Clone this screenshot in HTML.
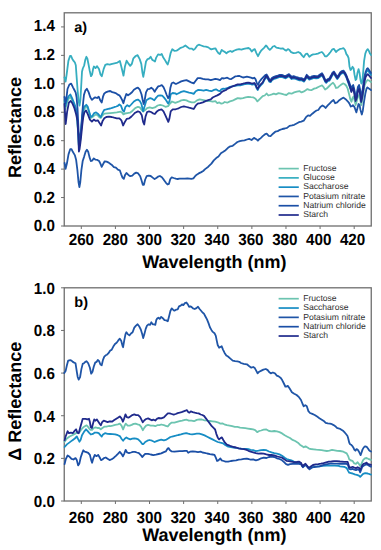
<!DOCTYPE html>
<html><head><meta charset="utf-8"><style>
html,body{margin:0;padding:0;background:#fff;width:381px;height:550px;overflow:hidden}
svg{display:block}
text{font-family:"Liberation Sans",sans-serif;text-rendering:geometricPrecision}
.tk{font-size:15.2px;font-weight:bold;fill:#000}
.ti{font-size:18.0px;font-weight:bold;fill:#000}
.pl{font-size:14.5px;font-weight:bold;fill:#000}
.lg{font-size:8.6px;fill:#303030}
</style></head><body>
<svg width="381" height="550" viewBox="0 0 381 550">
<rect x="64.24" y="12.80" width="307.01" height="213.20" fill="none" stroke="#6e6e6e" stroke-width="1.3"/>
<line x1="61.04" y1="226.00" x2="64.24" y2="226.00" stroke="#6e6e6e" stroke-width="1"/>
<text transform="translate(54.9,231.10) scale(1,1.06)" class="tk" text-anchor="end">0.0</text>
<line x1="61.04" y1="197.56" x2="64.24" y2="197.56" stroke="#6e6e6e" stroke-width="1"/>
<text transform="translate(54.9,202.66) scale(1,1.06)" class="tk" text-anchor="end">0.2</text>
<line x1="61.04" y1="169.12" x2="64.24" y2="169.12" stroke="#6e6e6e" stroke-width="1"/>
<text transform="translate(54.9,174.22) scale(1,1.06)" class="tk" text-anchor="end">0.4</text>
<line x1="61.04" y1="140.68" x2="64.24" y2="140.68" stroke="#6e6e6e" stroke-width="1"/>
<text transform="translate(54.9,145.78) scale(1,1.06)" class="tk" text-anchor="end">0.6</text>
<line x1="61.04" y1="112.24" x2="64.24" y2="112.24" stroke="#6e6e6e" stroke-width="1"/>
<text transform="translate(54.9,117.34) scale(1,1.06)" class="tk" text-anchor="end">0.8</text>
<line x1="61.04" y1="83.80" x2="64.24" y2="83.80" stroke="#6e6e6e" stroke-width="1"/>
<text transform="translate(54.9,88.90) scale(1,1.06)" class="tk" text-anchor="end">1.0</text>
<line x1="61.04" y1="55.36" x2="64.24" y2="55.36" stroke="#6e6e6e" stroke-width="1"/>
<text transform="translate(54.9,60.46) scale(1,1.06)" class="tk" text-anchor="end">1.2</text>
<line x1="61.04" y1="26.92" x2="64.24" y2="26.92" stroke="#6e6e6e" stroke-width="1"/>
<text transform="translate(54.9,30.92) scale(1,1.06)" class="tk" text-anchor="end">1.4</text>
<line x1="81.30" y1="226.00" x2="81.30" y2="229.00" stroke="#6e6e6e" stroke-width="1"/>
<text transform="translate(81.40,244.80) scale(1,1.06)" class="tk" text-anchor="middle">260</text>
<line x1="115.41" y1="226.00" x2="115.41" y2="229.00" stroke="#6e6e6e" stroke-width="1"/>
<text transform="translate(115.30,244.80) scale(1,1.06)" class="tk" text-anchor="middle">280</text>
<line x1="149.52" y1="226.00" x2="149.52" y2="229.00" stroke="#6e6e6e" stroke-width="1"/>
<text transform="translate(149.20,244.80) scale(1,1.06)" class="tk" text-anchor="middle">300</text>
<line x1="183.63" y1="226.00" x2="183.63" y2="229.00" stroke="#6e6e6e" stroke-width="1"/>
<text transform="translate(183.10,244.80) scale(1,1.06)" class="tk" text-anchor="middle">320</text>
<line x1="217.74" y1="226.00" x2="217.74" y2="229.00" stroke="#6e6e6e" stroke-width="1"/>
<text transform="translate(217.00,244.80) scale(1,1.06)" class="tk" text-anchor="middle">340</text>
<line x1="251.86" y1="226.00" x2="251.86" y2="229.00" stroke="#6e6e6e" stroke-width="1"/>
<text transform="translate(250.90,244.80) scale(1,1.06)" class="tk" text-anchor="middle">360</text>
<line x1="285.97" y1="226.00" x2="285.97" y2="229.00" stroke="#6e6e6e" stroke-width="1"/>
<text transform="translate(284.80,244.80) scale(1,1.06)" class="tk" text-anchor="middle">380</text>
<line x1="320.08" y1="226.00" x2="320.08" y2="229.00" stroke="#6e6e6e" stroke-width="1"/>
<text transform="translate(318.70,244.80) scale(1,1.06)" class="tk" text-anchor="middle">400</text>
<line x1="354.19" y1="226.00" x2="354.19" y2="229.00" stroke="#6e6e6e" stroke-width="1"/>
<text transform="translate(352.60,244.80) scale(1,1.06)" class="tk" text-anchor="middle">420</text>
<text x="214.4" y="268.30" class="ti" text-anchor="middle">Wavelength (nm)</text>
<text transform="translate(20.6,127.40) rotate(-90)" class="ti" text-anchor="middle">Reflectance</text>
<text x="74.3" y="31.90" class="pl">a)</text>
<rect x="64.24" y="287.80" width="307.01" height="213.20" fill="none" stroke="#6e6e6e" stroke-width="1.3"/>
<line x1="61.04" y1="501.00" x2="64.24" y2="501.00" stroke="#6e6e6e" stroke-width="1"/>
<text transform="translate(54.9,506.80) scale(1,1.06)" class="tk" text-anchor="end">0.0</text>
<line x1="61.04" y1="458.36" x2="64.24" y2="458.36" stroke="#6e6e6e" stroke-width="1"/>
<text transform="translate(54.9,464.16) scale(1,1.06)" class="tk" text-anchor="end">0.2</text>
<line x1="61.04" y1="415.72" x2="64.24" y2="415.72" stroke="#6e6e6e" stroke-width="1"/>
<text transform="translate(54.9,421.52) scale(1,1.06)" class="tk" text-anchor="end">0.4</text>
<line x1="61.04" y1="373.08" x2="64.24" y2="373.08" stroke="#6e6e6e" stroke-width="1"/>
<text transform="translate(54.9,378.88) scale(1,1.06)" class="tk" text-anchor="end">0.6</text>
<line x1="61.04" y1="330.44" x2="64.24" y2="330.44" stroke="#6e6e6e" stroke-width="1"/>
<text transform="translate(54.9,336.24) scale(1,1.06)" class="tk" text-anchor="end">0.8</text>
<line x1="61.04" y1="287.80" x2="64.24" y2="287.80" stroke="#6e6e6e" stroke-width="1"/>
<text transform="translate(54.9,293.60) scale(1,1.06)" class="tk" text-anchor="end">1.0</text>
<line x1="81.30" y1="501.00" x2="81.30" y2="504.00" stroke="#6e6e6e" stroke-width="1"/>
<text transform="translate(81.40,522.90) scale(1,1.06)" class="tk" text-anchor="middle">260</text>
<line x1="115.41" y1="501.00" x2="115.41" y2="504.00" stroke="#6e6e6e" stroke-width="1"/>
<text transform="translate(115.30,522.90) scale(1,1.06)" class="tk" text-anchor="middle">280</text>
<line x1="149.52" y1="501.00" x2="149.52" y2="504.00" stroke="#6e6e6e" stroke-width="1"/>
<text transform="translate(149.20,522.90) scale(1,1.06)" class="tk" text-anchor="middle">300</text>
<line x1="183.63" y1="501.00" x2="183.63" y2="504.00" stroke="#6e6e6e" stroke-width="1"/>
<text transform="translate(183.10,522.90) scale(1,1.06)" class="tk" text-anchor="middle">320</text>
<line x1="217.74" y1="501.00" x2="217.74" y2="504.00" stroke="#6e6e6e" stroke-width="1"/>
<text transform="translate(217.00,522.90) scale(1,1.06)" class="tk" text-anchor="middle">340</text>
<line x1="251.86" y1="501.00" x2="251.86" y2="504.00" stroke="#6e6e6e" stroke-width="1"/>
<text transform="translate(250.90,522.90) scale(1,1.06)" class="tk" text-anchor="middle">360</text>
<line x1="285.97" y1="501.00" x2="285.97" y2="504.00" stroke="#6e6e6e" stroke-width="1"/>
<text transform="translate(284.80,522.90) scale(1,1.06)" class="tk" text-anchor="middle">380</text>
<line x1="320.08" y1="501.00" x2="320.08" y2="504.00" stroke="#6e6e6e" stroke-width="1"/>
<text transform="translate(318.70,522.90) scale(1,1.06)" class="tk" text-anchor="middle">400</text>
<line x1="354.19" y1="501.00" x2="354.19" y2="504.00" stroke="#6e6e6e" stroke-width="1"/>
<text transform="translate(352.60,522.90) scale(1,1.06)" class="tk" text-anchor="middle">420</text>
<text x="214.4" y="540.70" class="ti" text-anchor="middle">Wavelength (nm)</text>
<text transform="translate(20.6,401.20) rotate(-90)" class="ti" text-anchor="middle">&#916; Reflectance</text>
<text x="74.3" y="306.90" class="pl">b)</text>
<line x1="278.6" y1="168.60" x2="298.8" y2="168.60" stroke="#6cc4b0" stroke-width="1.7"/>
<text x="303.2" y="170.90" class="lg">Fructose</text>
<line x1="278.6" y1="177.88" x2="298.8" y2="177.88" stroke="#36aec0" stroke-width="1.7"/>
<text x="303.2" y="180.18" class="lg">Glucose</text>
<line x1="278.6" y1="187.16" x2="298.8" y2="187.16" stroke="#178dc4" stroke-width="1.7"/>
<text x="303.2" y="189.46" class="lg">Saccharose</text>
<line x1="278.6" y1="196.44" x2="298.8" y2="196.44" stroke="#1f55a7" stroke-width="1.7"/>
<text x="303.2" y="198.74" class="lg">Potasium nitrate</text>
<line x1="278.6" y1="205.72" x2="298.8" y2="205.72" stroke="#1b4fa6" stroke-width="1.7"/>
<text x="303.2" y="208.02" class="lg">Natrium chloride</text>
<line x1="278.6" y1="215.00" x2="298.8" y2="215.00" stroke="#1f2a8c" stroke-width="1.7"/>
<text x="303.2" y="217.30" class="lg">Starch</text>
<line x1="278.6" y1="298.70" x2="298.8" y2="298.70" stroke="#6cc4b0" stroke-width="1.7"/>
<text x="303.2" y="301.00" class="lg">Fructose</text>
<line x1="278.6" y1="308.03" x2="298.8" y2="308.03" stroke="#178dc4" stroke-width="1.7"/>
<text x="303.2" y="310.33" class="lg">Saccharose</text>
<line x1="278.6" y1="317.36" x2="298.8" y2="317.36" stroke="#1f55a7" stroke-width="1.7"/>
<text x="303.2" y="319.66" class="lg">Potasium nitrate</text>
<line x1="278.6" y1="326.69" x2="298.8" y2="326.69" stroke="#1b4fa6" stroke-width="1.7"/>
<text x="303.2" y="328.99" class="lg">Natrium chloride</text>
<line x1="278.6" y1="336.02" x2="298.8" y2="336.02" stroke="#1f2a8c" stroke-width="1.7"/>
<text x="303.2" y="338.32" class="lg">Starch</text>
<polyline points="64.5,102.0 65.4,109.0 66.6,104.0 68.5,99.0 70.3,97.0 72.1,100.0 73.9,104.5 75.7,109.0 77.0,117.0 78.0,132.0 78.9,147.0 79.8,145.0 80.8,135.0 81.8,124.0 82.8,114.0 84.0,109.5 86.0,106.5 87.7,108.5 89.2,113.0 90.8,118.0 92.5,117.0 94.2,115.5 96.1,114.5 97.8,115.5 99.5,117.5 100.8,118.0 102.4,115.5 104.3,113.7 107.0,113.4 110.2,113.1 113.0,112.8 116.8,112.4 120.7,111.7 122.5,113.0 123.4,114.4 125.0,113.5 127.3,113.1 130.0,112.7 132.6,110.7 135.2,108.1 137.9,106.8 139.8,107.4 141.8,110.1 143.1,111.4 145.1,110.1 147.1,108.1 149.7,107.4 152.3,108.1 154.9,107.4 157.6,105.5 160.2,104.8 162.8,105.5 165.4,106.8 168.1,106.1 170.0,103.5 172.0,101.5 175.3,102.8 178.6,101.7 181.2,100.4 183.9,99.8 186.5,100.4 189.1,101.7 191.7,102.4 194.4,102.4 197.0,100.4 199.6,99.4 202.2,99.8 204.9,100.4 207.5,101.1 210.1,101.1 212.7,101.7 215.4,101.1 217.3,103.1 219.3,102.4 221.3,103.7 223.2,103.1 224.6,102.0 227.2,102.7 229.9,101.4 232.5,100.7 235.1,99.4 237.7,98.1 240.4,98.5 243.0,98.1 245.6,97.4 248.2,96.8 250.9,97.2 253.5,97.4 255.5,98.7 257.4,101.4 258.7,100.1 260.7,98.1 262.7,96.1 264.7,95.5 266.6,93.5 268.3,95.5 270.0,95.0 271.9,94.4 273.9,93.7 275.9,94.4 278.5,93.1 281.1,93.7 283.7,94.4 286.4,95.0 289.0,93.1 291.6,93.7 294.2,92.4 296.9,91.7 299.5,91.1 301.5,92.4 303.4,91.7 305.4,90.4 307.4,89.1 309.3,89.8 311.3,90.2 314.1,88.6 316.2,88.1 318.3,87.0 320.4,86.0 322.0,85.4 323.5,87.0 325.1,89.6 326.7,88.6 328.8,86.5 330.9,84.4 333.0,82.8 334.6,84.8 336.1,88.0 337.7,87.6 339.3,86.1 341.4,84.5 343.0,83.4 344.5,84.0 346.1,85.5 347.7,88.7 349.3,95.0 350.3,99.2 351.5,101.8 352.5,98.1 353.5,96.4 354.5,100.0 355.6,105.0 356.8,101.0 358.0,96.0 359.2,95.0 360.3,100.0 361.3,105.0 362.3,100.0 363.5,92.0 364.6,85.3 366.0,82.0 367.5,80.0 369.0,80.5 371.0,82.0" fill="none" stroke="#6cc4b0" stroke-width="1.8" stroke-linejoin="round" stroke-linecap="round"/>
<polyline points="64.5,77.3 65.6,81.6 66.7,74.0 68.4,60.9 70.0,56.0 71.1,56.0 72.2,58.7 73.6,60.9 74.9,62.5 75.8,65.3 76.5,75.1 77.6,90.3 78.7,101.3 79.5,105.6 80.4,100.2 81.2,86.0 82.0,71.8 82.8,68.5 84.2,65.3 85.3,59.8 86.4,56.8 87.4,58.7 88.5,64.2 89.6,70.2 91.0,76.2 92.1,74.5 93.2,68.5 93.9,66.5 95.5,68.1 97.1,66.2 99.0,68.9 100.5,74.4 101.8,76.3 103.7,68.9 105.3,64.9 107.3,64.1 109.7,64.6 111.2,64.1 114.4,63.3 117.5,62.6 119.9,61.0 121.6,67.8 123.5,75.7 125.0,66.2 126.6,60.7 128.7,63.9 130.2,65.9 131.8,63.9 133.4,58.3 135.7,56.0 137.6,55.2 139.7,59.1 141.3,63.9 142.4,72.5 143.3,76.9 144.4,70.9 146.0,61.5 147.6,59.1 149.1,58.7 150.7,56.8 152.3,59.9 153.9,60.7 155.0,61.5 156.2,57.6 158.1,54.4 160.2,54.9 161.7,53.9 163.3,57.6 164.9,59.9 166.5,62.8 167.7,64.6 169.1,59.9 170.7,52.8 172.3,49.2 174.3,50.8 176.5,50.7 178.4,49.4 180.7,47.8 183.1,47.0 185.4,45.5 187.3,47.0 189.4,48.6 191.7,48.6 193.6,49.9 195.2,48.6 197.3,45.5 198.8,44.7 201.2,45.5 203.6,46.3 205.9,46.7 208.3,47.4 209.9,48.6 211.4,49.4 213.8,48.6 215.4,48.3 216.9,51.0 218.5,53.3 219.8,54.1 221.7,49.9 223.2,51.0 225.1,52.1 226.4,53.3 228.3,51.8 230.3,51.0 232.0,51.9 234.4,50.5 236.7,49.6 239.1,49.1 241.4,49.6 243.8,48.8 246.2,48.3 248.5,48.0 250.1,49.1 251.7,51.5 253.3,49.9 254.8,49.1 256.4,53.1 258.0,56.2 259.6,53.1 261.1,50.7 262.7,49.1 264.3,47.6 265.9,45.5 267.0,46.5 268.2,48.3 269.8,49.9 271.4,48.3 272.9,46.5 274.5,46.0 276.4,47.6 278.5,48.0 280.8,48.7 282.7,48.3 284.8,49.9 286.3,50.7 287.9,49.1 289.5,50.1 291.1,52.1 293.5,53.1 295.9,52.8 298.2,52.0 300.3,53.1 302.2,55.6 303.7,57.2 305.6,54.1 307.2,53.6 309.3,56.7 311.3,55.2 313.2,54.4 315.6,54.1 317.9,53.6 320.3,52.5 321.9,52.0 323.4,53.6 325.0,56.3 326.6,56.3 328.6,54.4 330.5,52.0 332.4,49.3 334.0,48.9 336.0,52.0 337.6,50.4 340.0,48.9 341.8,48.6 343.6,48.2 345.0,50.0 346.4,54.1 347.7,55.9 348.6,58.2 349.5,66.4 350.5,70.0 351.4,69.1 352.5,66.8 353.6,68.2 354.5,74.5 355.6,80.0 356.4,79.1 357.5,72.7 358.6,69.1 359.5,72.7 360.5,80.0 361.4,83.6 362.3,81.8 363.2,71.8 364.1,60.9 365.3,53.6 366.5,50.5 367.7,49.1 368.9,50.9 370.0,53.6 371.0,55.0" fill="none" stroke="#36aec0" stroke-width="1.8" stroke-linejoin="round" stroke-linecap="round"/>
<polyline points="64.5,100.0 65.4,106.0 66.6,101.0 68.5,96.4 70.3,94.5 72.1,98.2 73.9,102.7 75.7,107.3 77.0,115.0 78.0,130.0 78.9,146.0 79.8,144.0 80.8,134.0 81.8,122.0 82.8,112.0 84.0,107.0 86.3,104.8 87.7,106.5 89.2,111.7 90.8,117.0 92.5,115.7 94.2,113.1 96.1,112.4 97.8,113.7 99.5,115.7 100.8,117.0 102.4,113.1 104.3,109.8 106.3,109.4 108.3,108.9 110.2,108.5 112.2,107.8 114.2,107.2 116.2,106.5 117.9,105.8 119.4,104.5 121.0,105.8 122.7,110.4 124.0,111.7 125.3,107.2 127.3,105.2 129.3,106.5 131.2,104.5 133.9,101.5 135.9,100.2 137.9,99.6 139.8,100.9 141.5,104.2 143.1,111.4 144.7,106.1 146.4,100.2 148.4,98.9 150.3,98.2 152.3,98.9 154.3,100.2 156.2,97.6 158.2,95.6 160.2,95.4 162.2,95.6 164.1,97.6 166.1,100.2 168.1,103.5 169.4,101.5 170.7,94.3 172.7,93.0 175.3,93.3 176.5,94.3 178.6,93.2 181.2,91.9 183.9,91.2 186.5,91.9 189.1,92.6 191.7,93.2 193.7,93.9 195.7,91.2 198.3,89.9 200.9,90.2 203.6,90.6 206.2,89.9 208.8,90.6 211.4,91.2 214.1,89.9 216.0,89.3 218.0,90.6 220.0,91.2 221.3,89.3 223.2,88.6 224.6,88.9 227.2,88.2 229.9,86.9 232.5,86.3 235.1,85.9 237.7,85.3 240.4,85.3 243.0,84.7 245.6,84.0 248.2,83.7 250.2,84.0 252.2,84.7 254.2,84.0 255.5,85.3 256.8,88.6 257.7,90.0 259.0,87.3 260.7,85.3 262.7,83.3 264.7,79.4 266.4,76.8 267.5,78.5 268.0,79.0 269.3,81.6 270.6,82.2 271.9,80.3 273.9,79.0 275.9,78.3 277.8,77.7 279.8,77.0 281.8,77.0 283.7,77.7 285.7,78.3 287.7,77.0 289.0,76.3 290.3,77.7 291.6,79.0 293.6,78.3 295.6,79.0 297.5,79.6 299.5,80.3 301.5,80.3 302.8,80.9 304.1,81.6 305.4,79.6 306.7,77.0 308.0,78.3 309.3,79.6 311.3,79.0 312.0,78.6 314.1,78.0 316.2,78.3 318.3,78.0 320.4,76.5 322.0,75.4 323.5,78.0 325.1,81.7 326.2,82.8 327.7,81.2 329.3,80.7 330.9,78.0 332.5,74.9 334.0,73.8 335.6,76.5 337.2,79.1 338.8,77.0 340.3,74.4 341.9,73.3 343.5,72.8 345.1,74.9 346.6,78.0 347.7,81.2 349.1,85.0 350.5,88.0 351.4,91.0 352.4,88.0 353.2,87.0 354.4,92.0 355.6,99.0 356.8,96.0 357.9,89.0 359.1,87.0 360.3,93.0 361.1,99.0 362.1,95.0 363.3,87.0 364.4,79.0 365.6,74.0 366.8,71.0 367.8,70.5 369.0,72.0 371.0,75.0" fill="none" stroke="#178dc4" stroke-width="1.8" stroke-linejoin="round" stroke-linecap="round"/>
<polyline points="64.6,163.0 65.6,168.9 66.9,163.6 68.5,154.4 70.2,149.2 71.5,149.2 72.8,151.8 74.8,155.1 76.1,159.7 77.4,170.2 78.5,182.0 79.4,187.2 80.3,182.0 81.4,170.2 82.7,161.0 84.0,157.1 85.6,151.8 86.9,149.8 88.2,151.8 89.5,157.1 90.8,161.0 92.1,160.7 93.8,158.4 95.5,159.7 97.4,159.9 99.1,161.0 100.4,163.6 101.7,166.9 103.0,164.3 104.7,161.3 106.6,161.7 108.7,162.6 110.5,164.0 112.0,165.1 113.9,167.1 115.9,167.7 117.9,169.7 119.8,170.3 121.2,174.3 122.5,177.6 123.8,178.9 125.1,174.9 126.4,173.0 128.4,174.9 130.3,176.2 132.3,175.6 134.3,173.6 136.2,172.6 138.2,173.4 140.2,176.2 141.5,180.2 142.8,184.8 143.9,184.8 145.2,179.5 146.7,176.2 148.7,175.6 150.7,176.0 152.7,177.6 154.6,179.1 156.3,178.0 158.0,176.7 159.9,176.0 161.9,177.3 163.9,179.9 165.8,182.6 167.5,184.5 168.9,183.9 170.2,179.3 171.7,177.3 173.7,178.0 175.7,178.6 177.7,179.0 179.6,178.6 182.2,178.6 184.9,178.6 187.5,178.4 189.5,178.6 191.4,178.9 193.4,178.4 194.7,176.7 196.7,174.7 198.7,173.4 201.3,172.1 203.2,171.0 205.1,169.1 208.3,166.7 211.4,163.6 213.8,160.4 216.2,158.1 218.5,156.5 220.9,153.3 223.3,151.8 225.6,150.2 228.0,147.8 230.3,146.3 232.7,145.8 235.1,143.9 237.4,142.0 239.8,141.1 242.2,140.7 244.5,140.4 246.9,139.5 249.2,138.9 251.6,140.0 254.0,137.9 256.3,139.2 257.9,140.7 259.5,138.9 260.4,138.5 262.7,136.1 265.1,134.2 266.7,133.7 268.7,135.8 270.6,136.1 273.0,133.7 275.3,131.7 277.7,131.1 280.0,129.8 282.4,129.0 284.8,128.5 287.1,127.9 289.5,125.9 291.9,125.4 294.2,124.8 296.6,123.5 298.9,122.2 301.3,121.6 303.7,120.7 306.0,117.2 308.1,115.3 310.0,115.9 312.3,113.7 314.7,111.7 316.5,110.5 318.3,110.0 320.4,107.0 322.5,105.4 324.1,106.4 325.6,108.0 327.7,105.4 329.8,103.3 331.9,101.2 333.5,100.0 335.1,103.2 337.2,102.3 339.3,100.2 341.4,98.7 343.5,97.6 345.6,99.2 347.7,101.3 349.3,103.4 350.8,106.5 352.0,106.2 353.0,105.2 354.5,107.1 355.6,110.3 356.4,112.3 357.5,108.0 358.5,104.0 359.5,105.0 360.5,110.0 361.8,114.5 362.8,110.7 364.0,101.8 365.3,93.8 366.5,88.8 367.3,87.4 368.5,88.3 370.0,89.3 371.0,90.1" fill="none" stroke="#1f55a7" stroke-width="1.8" stroke-linejoin="round" stroke-linecap="round"/>
<polyline points="64.5,97.0 65.4,103.0 66.2,100.0 67.5,89.0 69.4,84.5 71.2,83.6 73.0,87.3 74.4,90.0 75.7,92.7 76.6,97.3 77.5,108.0 78.3,125.0 79.2,142.0 80.2,138.0 81.2,128.0 82.2,114.0 83.2,102.0 84.0,94.7 85.3,90.7 86.9,88.8 88.6,92.1 90.3,97.3 91.9,99.9 93.4,98.6 95.2,97.3 97.1,98.0 98.7,96.7 100.4,100.6 101.7,102.6 103.0,96.7 104.3,93.4 106.3,92.1 108.3,91.4 110.2,91.0 112.2,92.1 114.2,92.7 116.2,93.4 117.9,94.7 119.4,95.3 120.7,97.3 122.1,99.9 123.4,103.2 124.7,98.6 126.3,94.0 128.0,95.3 129.9,94.0 132.0,92.3 133.9,89.7 135.9,88.4 137.9,87.7 139.8,89.7 141.5,94.3 142.9,101.0 143.7,104.0 144.7,100.0 146.0,92.3 147.7,89.1 149.7,88.8 151.3,87.7 153.0,89.1 154.7,91.7 156.2,89.1 158.2,86.4 160.2,85.8 161.8,85.1 163.5,87.1 165.2,91.0 166.7,95.0 168.1,98.2 169.1,96.9 170.4,87.7 171.7,83.2 173.3,82.5 175.3,83.8 176.5,83.8 178.6,82.7 181.2,81.4 183.9,80.7 186.5,80.1 189.1,81.4 191.7,82.7 193.7,83.4 195.7,80.7 197.7,78.1 200.3,78.1 202.9,78.8 205.5,79.4 208.2,79.4 210.8,80.1 213.4,79.4 215.4,78.8 218.0,79.4 220.0,80.1 221.9,78.1 224.0,78.5 227.2,77.7 229.2,78.8 231.2,79.1 233.2,77.7 235.1,76.4 237.1,76.2 239.1,75.8 241.0,76.7 243.0,77.5 245.0,77.1 246.9,76.7 248.9,77.1 250.9,77.7 252.8,78.4 254.2,77.7 255.5,79.1 256.8,83.0 258.1,85.0 259.4,81.7 261.4,79.1 263.3,77.1 265.3,75.1 266.6,74.5 267.5,76.0 268.0,76.8 269.3,79.4 270.6,80.0 271.9,78.1 273.9,76.8 275.9,76.1 277.8,75.5 279.8,74.8 281.8,74.8 283.7,75.5 285.7,76.1 287.7,74.8 289.0,74.1 290.3,75.5 291.6,76.8 293.6,76.1 295.6,76.8 297.5,77.4 299.5,78.1 301.5,78.1 302.8,78.7 304.1,79.4 305.4,77.4 306.7,74.8 308.0,76.1 309.3,77.4 311.3,76.8 312.0,76.4 314.1,75.8 316.2,76.1 318.3,75.8 320.4,74.3 322.0,73.2 323.5,75.8 325.1,79.5 326.2,80.6 327.7,79.0 329.3,78.5 330.9,75.8 332.5,72.7 334.0,71.6 335.6,74.3 337.2,76.9 338.8,74.8 340.3,72.2 341.9,71.1 343.5,70.6 345.1,72.7 346.6,75.8 347.7,79.0 349.1,82.0 350.5,86.0 351.4,89.0 352.4,86.0 353.2,85.0 354.4,90.0 355.6,97.0 356.8,94.0 357.9,87.0 359.1,85.0 360.3,91.0 361.1,97.0 362.1,93.0 363.3,85.0 364.4,77.0 365.6,72.0 366.8,69.0 367.8,68.2 369.0,70.0 371.0,73.0" fill="none" stroke="#1b4fa6" stroke-width="1.8" stroke-linejoin="round" stroke-linecap="round"/>
<polyline points="64.5,104.0 65.7,124.0 67.1,111.8 68.9,102.7 70.7,100.9 72.5,103.6 74.4,108.2 76.2,114.5 77.5,121.0 78.3,135.0 78.9,151.5 79.6,149.0 80.4,143.0 81.3,135.0 82.3,125.0 83.3,117.0 84.3,112.5 86.0,110.4 87.9,114.4 89.9,119.6 91.9,121.6 93.8,119.6 95.8,120.9 97.8,120.3 99.5,122.9 101.1,125.5 102.6,120.9 104.3,118.3 106.3,117.0 108.9,116.7 111.6,117.0 114.2,117.7 116.8,118.3 119.4,118.3 121.4,120.3 123.1,125.5 124.7,122.2 126.7,118.9 129.3,118.3 131.5,116.5 133.9,114.0 135.2,112.7 137.9,111.4 139.8,112.0 141.8,115.3 143.1,121.9 144.2,124.5 145.5,116.6 147.1,112.0 149.0,111.4 151.0,112.0 153.0,113.3 154.9,114.0 156.9,111.4 158.9,110.1 161.5,109.4 163.5,111.4 165.4,115.3 167.4,119.9 168.3,121.9 169.4,118.6 170.7,111.4 172.7,109.4 175.3,109.4 176.5,109.0 178.6,108.3 181.2,107.0 183.9,106.3 186.5,107.0 189.1,107.7 191.7,108.3 193.7,109.0 195.7,105.7 197.7,103.7 200.3,103.1 202.9,102.4 205.5,101.1 208.2,100.2 210.8,99.4 212.7,97.5 214.7,96.5 217.3,95.4 220.0,93.9 221.9,91.9 223.9,90.8 226.0,90.0 227.2,88.9 229.9,87.6 232.5,86.3 235.1,85.4 237.7,84.3 240.4,84.3 243.0,83.7 245.6,83.0 248.2,82.7 250.2,83.0 252.2,83.7 254.2,83.0 255.5,84.3 256.8,87.6 257.7,88.9 259.0,86.3 260.7,84.3 262.7,82.3 264.7,78.4 266.4,75.8 267.5,77.5 268.0,78.0 269.3,80.6 270.6,81.2 271.9,79.3 273.9,78.0 275.9,77.3 277.8,76.7 279.8,76.0 281.8,76.0 283.7,76.7 285.7,77.3 287.7,76.0 289.0,75.3 290.3,76.7 291.6,78.0 293.6,77.3 295.6,78.0 297.5,78.6 299.5,79.3 301.5,79.3 302.8,79.9 304.1,80.6 305.4,78.6 306.7,76.0 308.0,77.3 309.3,78.6 311.3,78.0 312.0,77.6 314.1,77.0 316.2,77.3 318.3,77.0 320.4,75.5 322.0,74.4 323.5,77.0 325.1,80.7 326.2,81.8 327.7,80.2 329.3,79.7 330.9,77.0 332.5,73.9 334.0,72.8 335.6,75.5 337.2,78.1 338.8,76.0 340.3,73.4 341.9,72.3 343.5,71.8 345.1,73.9 346.6,77.0 347.7,80.2 349.1,84.0 350.5,89.0 351.4,92.0 352.4,89.0 353.2,88.0 354.4,94.0 355.6,101.0 356.8,98.0 357.9,91.0 359.1,89.0 360.3,95.0 361.1,102.0 362.1,98.0 363.3,90.0 364.4,82.0 365.6,77.0 366.8,75.0 367.8,74.2 369.0,75.5 371.0,78.0" fill="none" stroke="#1f2a8c" stroke-width="1.8" stroke-linejoin="round" stroke-linecap="round"/>
<polyline points="64.6,441.7 66.9,438.5 69.6,436.5 72.2,435.2 74.8,433.9 76.8,432.6 78.1,433.2 79.8,431.9 81.4,429.3 83.3,427.3 85.3,426.0 86.6,425.3 87.9,426.7 89.2,428.6 90.6,429.9 92.1,429.9 93.8,428.0 95.5,427.3 97.4,428.0 99.1,428.0 100.8,429.3 102.4,428.0 104.3,426.7 106.3,426.7 108.9,426.0 110.5,426.1 112.6,425.6 115.2,424.9 117.9,424.3 119.8,423.6 121.5,425.6 123.1,429.5 124.4,426.2 125.7,423.6 127.7,425.6 129.7,425.6 131.7,424.9 133.6,423.9 135.6,423.6 137.6,424.3 139.5,424.9 141.2,426.9 142.8,430.2 144.4,427.6 146.1,425.6 148.1,424.9 150.7,425.6 153.3,425.6 155.3,426.2 157.2,425.2 159.5,425.2 161.2,424.5 163.9,425.2 165.8,425.8 167.8,426.5 169.8,423.9 171.7,422.6 174.4,422.6 177.0,421.9 179.6,421.2 182.2,420.6 184.9,419.9 186.8,419.7 188.8,420.6 191.4,420.6 194.1,421.2 196.7,419.9 199.3,419.3 201.9,419.5 204.6,420.3 207.2,420.7 209.9,421.0 212.5,421.3 215.1,421.7 217.7,422.3 220.4,423.6 222.3,423.4 224.3,424.3 226.9,425.2 229.6,425.6 232.2,426.2 234.8,426.9 237.4,426.9 240.1,427.6 242.7,427.8 245.3,428.2 247.9,428.6 250.6,429.0 253.2,429.4 255.2,430.1 257.2,432.1 259.2,431.0 261.1,430.5 263.7,429.7 266.4,429.4 269.0,431.0 271.6,431.4 274.2,431.0 276.9,431.4 279.5,432.1 282.1,433.4 284.7,435.3 287.4,436.7 290.0,438.0 292.6,439.9 295.2,441.0 297.9,442.7 299.9,444.7 301.9,446.0 303.8,447.3 305.5,446.3 307.1,447.3 309.1,448.6 311.1,449.0 313.7,449.3 316.3,449.7 318.9,449.9 321.6,450.2 324.2,450.6 326.8,451.0 329.4,450.6 332.1,449.9 334.7,450.4 337.3,450.9 340.0,451.0 343.4,451.7 346.7,453.4 348.4,456.7 349.2,459.2 350.9,460.5 352.6,460.9 354.3,463.4 356.0,463.9 357.6,462.2 358.9,463.9 360.2,466.0 361.4,463.9 363.1,460.1 364.8,458.4 366.5,458.0 368.2,458.8 370.3,459.7 371.0,460.0" fill="none" stroke="#6cc4b0" stroke-width="1.8" stroke-linejoin="round" stroke-linecap="round"/>
<polyline points="64.6,447.0 66.9,444.4 69.6,442.4 72.2,440.4 74.8,438.5 76.8,436.5 78.1,439.1 79.4,441.7 80.7,439.8 82.0,435.2 84.0,431.9 86.0,429.3 87.3,430.6 89.0,432.6 90.8,434.5 92.9,433.9 94.8,432.6 96.9,432.6 98.7,433.2 100.4,435.2 101.7,436.5 103.0,434.5 105.0,433.2 107.6,433.9 110.1,434.0 112.6,434.1 115.2,434.4 117.9,435.2 119.8,436.1 121.5,438.7 123.1,440.7 124.7,438.7 126.4,437.4 128.4,438.7 130.3,439.4 132.3,438.7 134.3,438.3 136.2,438.7 138.2,439.4 140.2,441.3 142.2,444.0 143.5,444.0 145.2,442.0 147.4,440.7 149.4,440.0 152.0,440.7 154.6,442.0 156.6,441.1 158.6,440.3 161.2,439.6 163.9,440.3 166.5,439.6 168.5,438.3 170.4,437.0 173.1,436.3 175.7,435.7 178.3,435.0 180.9,434.4 183.6,433.7 186.2,433.1 188.2,433.7 190.1,434.1 192.1,434.4 194.1,434.1 196.7,433.7 199.3,433.7 201.9,434.4 204.6,435.4 207.2,436.7 209.9,438.1 212.5,439.4 215.1,440.7 217.7,442.0 220.4,442.7 223.0,443.3 225.6,445.3 228.2,446.6 230.9,447.2 233.5,447.5 236.1,447.9 238.7,448.3 241.4,448.6 244.0,448.8 246.6,448.8 248.5,449.2 250.6,449.8 253.2,450.2 255.9,451.1 258.5,450.7 261.1,450.2 263.7,449.8 266.4,450.2 269.0,451.5 271.6,452.4 274.2,453.1 276.9,453.7 279.5,454.4 282.1,455.7 284.7,457.7 286.7,459.0 288.7,459.6 291.3,460.3 293.9,461.5 296.5,462.5 299.2,463.1 301.2,464.4 302.9,466.7 304.5,465.7 306.1,465.0 307.8,467.0 309.5,468.3 311.7,467.3 315.0,466.7 318.9,466.3 322.9,465.9 326.8,465.7 330.7,465.7 334.7,465.7 338.6,465.9 340.0,466.4 344.2,466.8 346.7,468.1 348.0,470.6 349.2,472.7 350.9,473.1 352.6,473.5 354.7,474.4 356.8,474.8 358.9,475.6 360.2,476.9 361.4,475.6 363.1,473.9 365.2,473.1 367.7,473.5 370.3,474.4 371.0,474.6" fill="none" stroke="#178dc4" stroke-width="1.8" stroke-linejoin="round" stroke-linecap="round"/>
<polyline points="64.6,464.1 65.9,458.8 67.6,455.5 69.6,456.8 71.5,458.8 73.5,459.5 75.5,458.1 76.8,460.1 78.1,465.4 79.4,463.4 80.7,457.5 82.0,453.6 83.3,450.3 84.7,451.6 86.4,452.2 88.2,452.9 89.9,454.9 91.2,460.1 92.1,462.7 93.4,458.1 94.8,454.9 96.5,456.2 98.2,454.9 99.7,457.5 101.1,460.1 102.4,459.5 103.9,458.1 105.7,457.5 107.6,458.8 109.6,460.1 111.0,459.5 112.0,459.1 113.9,457.7 115.9,455.8 117.9,453.8 119.8,451.8 121.5,453.8 122.9,456.4 124.2,453.8 125.7,449.9 127.1,452.5 129.0,453.1 131.0,452.5 133.0,451.8 134.9,451.8 136.9,452.5 138.9,453.1 140.8,455.1 142.2,457.1 143.9,455.1 145.4,453.8 148.1,453.8 150.7,454.5 153.3,455.1 155.9,454.6 158.6,454.0 161.2,453.4 163.9,452.1 165.8,451.4 167.5,448.8 168.5,448.1 169.8,450.1 171.7,451.4 174.4,451.7 177.0,451.4 179.6,451.2 182.2,451.2 184.9,450.8 186.8,450.8 188.2,452.7 190.1,451.7 192.7,451.4 195.4,451.7 198.0,452.1 200.6,451.7 202.5,452.5 204.6,452.8 207.2,453.5 209.9,454.1 212.5,454.5 214.5,454.9 215.8,457.7 217.1,461.0 218.4,460.4 220.4,458.4 221.7,460.4 223.7,461.0 225.6,461.7 228.2,461.7 230.9,461.0 233.5,460.6 236.1,460.4 238.7,459.7 241.4,459.3 244.0,458.8 246.6,458.6 248.5,459.0 250.6,459.6 253.2,459.4 255.9,460.3 258.5,459.6 261.1,458.3 263.7,457.7 266.4,458.0 269.0,457.0 271.6,456.7 274.2,457.0 276.9,458.3 279.5,459.0 282.1,460.3 284.1,462.2 286.1,464.2 288.0,464.9 290.0,464.2 292.6,463.8 295.2,463.8 297.9,463.7 301.2,464.4 302.9,467.3 304.5,465.7 306.1,465.0 307.8,467.7 309.5,469.4 311.7,467.7 314.3,467.0 317.0,466.7 319.6,466.3 322.2,465.4 324.8,464.6 327.5,464.1 330.1,463.7 333.4,463.7 336.7,463.7 340.0,463.9 346.7,463.9 348.0,465.1 349.2,468.9 350.9,469.3 352.6,468.9 354.3,469.7 356.0,470.2 357.6,469.3 359.3,470.2 360.2,472.3 361.0,470.2 362.3,466.8 364.0,465.5 365.6,464.7 366.9,464.3 368.6,465.5 370.3,466.4 371.0,466.7" fill="none" stroke="#1b4fa6" stroke-width="1.8" stroke-linejoin="round" stroke-linecap="round"/>
<polyline points="64.3,373.1 65.6,371.1 66.9,365.2 68.2,360.6 70.2,360.2 71.5,360.6 72.8,361.9 74.2,362.6 75.5,363.2 76.8,371.7 77.7,377.0 78.7,379.6 80.1,377.0 81.4,369.1 82.7,363.9 84.0,363.2 85.3,361.9 86.6,361.2 88.2,363.2 89.9,367.8 91.2,373.7 92.5,371.7 93.8,366.5 95.2,362.6 96.5,361.9 97.8,359.9 99.1,361.2 100.4,364.5 101.7,365.2 103.0,359.9 104.3,356.7 105.7,355.3 107.0,354.7 108.3,353.4 109.6,351.4 110.5,350.3 111.6,349.9 113.3,346.6 115.0,344.0 116.6,342.7 118.1,340.7 119.8,338.7 121.2,340.7 122.5,345.9 123.1,347.2 124.2,340.7 125.5,334.1 126.4,332.2 127.7,334.1 129.4,335.4 131.0,333.5 132.6,332.2 134.3,327.6 136.0,325.6 137.6,324.3 139.1,326.2 140.8,329.5 142.2,334.1 143.2,338.1 144.4,334.1 145.7,328.9 147.0,325.6 148.7,324.3 150.0,324.9 151.3,322.3 152.7,324.3 154.0,324.3 155.3,324.9 156.3,320.0 157.2,318.5 158.4,317.6 159.7,318.9 161.2,316.9 162.8,318.2 164.5,320.2 166.2,320.4 167.8,321.2 169.1,316.2 170.4,311.0 171.7,308.4 173.1,309.7 174.4,310.7 176.0,309.7 177.7,309.4 179.0,306.4 180.7,305.7 182.0,304.4 183.3,305.1 184.9,303.1 186.4,302.5 187.8,304.4 189.1,306.8 190.4,306.4 191.7,307.1 193.0,308.4 194.7,309.0 196.4,308.1 198.0,306.8 199.6,309.0 201.3,311.0 202.5,312.5 203.8,313.4 205.3,316.2 207.0,319.4 208.6,323.4 209.9,327.3 211.4,329.9 212.8,331.9 214.5,333.2 215.8,335.8 216.7,340.4 217.7,345.0 219.1,347.7 220.4,347.0 221.7,346.3 223.0,349.6 224.6,352.9 226.3,355.5 228.0,356.5 230.4,358.6 232.7,360.7 235.1,361.1 237.4,361.4 239.3,361.8 240.9,363.0 243.7,363.8 246.9,364.3 249.3,366.2 251.3,367.7 253.2,367.0 254.8,368.1 256.3,370.9 257.6,373.3 259.2,371.7 261.4,370.6 263.4,369.6 265.8,369.0 267.7,370.1 269.3,372.2 270.8,373.3 272.9,372.5 274.9,373.3 276.8,375.6 278.7,376.4 280.8,378.0 282.3,380.3 283.9,383.5 285.3,386.5 286.6,386.5 287.8,385.9 289.5,388.2 291.9,392.2 294.2,393.7 296.6,395.0 299.0,397.2 301.0,400.0 302.6,404.0 303.7,406.3 305.3,405.1 306.8,406.3 308.4,411.1 310.0,413.0 312.3,413.9 314.7,415.0 317.1,416.6 319.4,418.2 321.8,419.7 324.2,421.3 325.7,422.9 327.8,423.4 330.0,423.7 332.0,424.2 333.6,425.1 335.3,426.2 336.9,427.8 338.5,428.4 340.2,428.9 341.8,430.0 343.4,431.1 344.9,432.7 346.2,434.3 347.5,436.0 348.3,438.7 349.2,442.5 350.0,444.2 351.1,444.7 352.2,445.8 353.3,447.4 354.3,449.6 355.4,450.7 356.5,449.1 357.6,449.6 358.7,451.2 359.8,453.4 360.6,455.1 361.4,452.9 362.5,449.6 363.8,447.4 365.2,446.3 366.7,446.9 368.0,448.5 369.1,450.2 370.4,451.2 371.0,451.5" fill="none" stroke="#1f55a7" stroke-width="1.8" stroke-linejoin="round" stroke-linecap="round"/>
<polyline points="64.6,440.4 65.6,436.5 67.6,431.2 68.9,433.2 70.9,432.6 72.8,433.2 74.8,430.6 76.1,429.3 77.4,432.6 78.7,433.2 80.1,428.0 81.4,423.4 82.7,418.8 84.0,418.8 85.6,418.8 87.3,419.4 89.0,418.8 89.9,422.1 90.8,427.3 91.9,428.0 92.9,424.0 94.2,419.4 95.5,420.7 96.9,419.4 98.2,421.4 99.5,423.4 100.8,425.3 102.1,422.1 103.7,420.7 105.7,421.4 107.6,422.1 109.6,421.4 111.0,421.5 112.0,421.7 113.9,420.3 115.9,419.0 117.9,417.7 119.8,416.4 121.5,418.4 122.9,421.7 124.2,418.4 125.5,414.4 126.8,417.1 128.4,417.7 130.3,416.4 132.3,415.1 134.3,414.4 136.2,415.1 138.2,415.1 140.2,417.1 141.8,420.3 142.8,422.3 144.4,420.3 146.1,419.0 148.1,418.4 150.0,419.4 151.7,420.3 153.3,419.7 155.3,420.5 157.2,418.6 158.6,418.0 161.2,418.4 163.9,417.3 165.8,415.3 167.8,413.4 169.8,413.4 171.7,414.0 173.7,414.7 175.7,414.0 177.7,413.1 179.6,412.7 181.6,412.1 183.6,411.4 185.5,410.7 186.8,410.1 188.2,412.1 189.5,412.7 190.8,411.4 192.7,412.1 194.7,412.7 196.7,413.1 198.7,413.4 200.6,414.5 202.3,415.0 204.0,415.9 205.9,418.4 207.9,421.0 209.9,423.6 211.8,426.2 213.8,428.2 215.1,429.5 216.4,434.1 217.7,437.4 219.1,439.4 220.6,438.1 221.9,437.4 223.3,440.0 225.0,442.7 226.9,444.6 228.9,445.3 230.9,446.2 233.5,447.0 236.1,447.5 238.7,448.3 241.4,448.8 244.0,449.2 246.6,449.9 248.5,450.8 250.6,451.7 253.2,452.4 255.9,453.1 258.5,453.7 261.1,453.3 263.7,453.7 266.4,454.4 269.0,455.0 271.6,455.0 274.2,455.4 276.9,456.3 279.5,457.0 282.1,457.7 284.7,459.6 286.7,460.9 288.7,461.2 291.3,461.6 294.0,462.2 296.6,462.0 299.2,461.7 301.2,463.1 302.5,466.3 303.8,465.0 305.5,463.7 307.1,465.7 308.4,467.7 310.4,466.7 313.0,465.0 315.7,464.4 318.3,464.1 320.9,463.7 323.5,463.1 326.2,462.4 328.8,461.7 331.4,461.5 334.0,461.2 336.7,461.1 340.0,461.5 344.2,461.8 347.6,461.8 348.4,464.3 349.2,467.2 350.9,467.6 352.6,466.8 354.3,467.6 356.0,468.1 357.6,467.2 359.3,468.1 360.2,469.7 361.0,468.1 362.3,465.1 363.5,463.9 365.2,463.4 366.5,462.6 367.7,463.9 369.0,464.3 370.3,464.7 371.0,464.9" fill="none" stroke="#1f2a8c" stroke-width="1.8" stroke-linejoin="round" stroke-linecap="round"/>
</svg>
</body></html>
